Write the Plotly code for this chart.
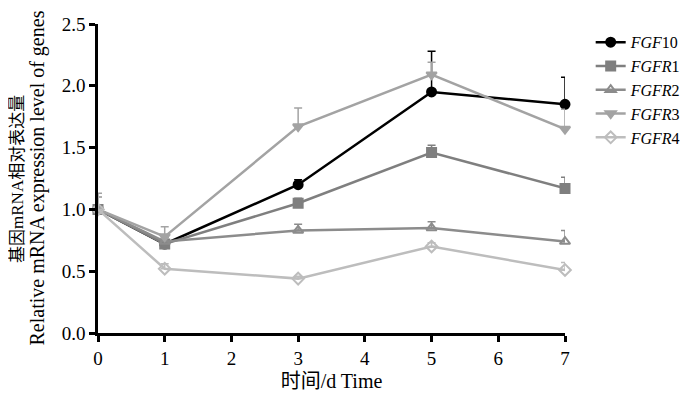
import plotly.graph_objects as go

days = [0, 1, 3, 5, 7]
series_names = ["<i>FGF</i>10", "<i>FGFR</i>1", "<i>FGFR</i>2", "<i>FGFR</i>3", "<i>FGFR</i>4"]
fgf10 = [1.00, 0.72, 1.20, 1.95, 1.85]
fgf10_err = [0.10, 0.03, 0.04, 0.33, 0.22]
fgfr1 = [1.00, 0.72, 1.05, 1.46, 1.17]
fgfr1_err = [0.10, 0.03, 0.04, 0.06, 0.09]
fgfr2 = [1.00, 0.74, 0.83, 0.85, 0.74]
fgfr2_err = [0.10, 0.03, 0.05, 0.05, 0.09]
fgfr3 = [1.00, 0.78, 1.67, 2.09, 1.65]
fgfr3_err = [0.13, 0.08, 0.15, 0.10, 0.16]
fgfr4 = [1.00, 0.52, 0.44, 0.70, 0.51]
fgfr4_err = [0.10, 0.04, 0.02, 0.03, 0.06]
y_title_cn = "基因mRNA相对表达量"
y_title_en = "Relative mRNA expression level of genes"
x_title = "时间/d Time"

values = [fgf10, fgfr1, fgfr2, fgfr3, fgfr4]
errors = [fgf10_err, fgfr1_err, fgfr2_err, fgfr3_err, fgfr4_err]
colors = ["#000000", "#7f7f7f", "#8c8c8c", "#a3a3a3", "#bdbdbd"]
symbols = ["circle", "square", "triangle-up-open", "triangle-down", "diamond-open"]

fig = go.Figure()
for name, v, e, c, s in zip(series_names, values, errors, colors, symbols):
    fig.add_trace(go.Scatter(
        x=days, y=v, name=name, mode="lines+markers",
        line=dict(color=c, width=2.5),
        marker=dict(symbol=s, size=9, color=c, line=dict(color=c, width=2)),
        error_y=dict(type="data", array=e, arrayminus=[0]*len(e), symmetric=False,
                     color=c, thickness=1.5, width=4),
        cliponaxis=False,
    ))

font = "Liberation Serif, Times New Roman, Noto Sans CJK SC, serif"
fig.update_layout(
    width=692, height=389,
    margin=dict(l=90, r=135, t=16, b=64),
    plot_bgcolor="white", paper_bgcolor="white",
    font=dict(family=font, size=19, color="black"),
    showlegend=True,
    legend=dict(x=1.055, y=0.996, xanchor="left", yanchor="top",
                font=dict(family=font, size=16, color="black"),
                tracegroupgap=0, itemwidth=30, bgcolor="rgba(0,0,0,0)"),
    xaxis=dict(range=[0, 7], tickvals=list(range(8)), showline=True, linecolor="black",
               linewidth=2.5, ticks="outside", ticklen=6, tickwidth=2.5, tickcolor="black",
               showgrid=False, zeroline=False, tickfont=dict(size=19), automargin=False,
               title=dict(text=x_title, font=dict(family=font, size=20), standoff=7)),
    yaxis=dict(range=[0, 2.5], tickvals=[0, 0.5, 1.0, 1.5, 2.0, 2.5],
               ticktext=["0.0", "0.5", "1.0", "1.5", "2.0", "2.5"],
               showline=True, linecolor="black", linewidth=2.5, ticks="outside",
               ticklen=6, tickwidth=2.5, tickcolor="black", showgrid=False, zeroline=False,
               tickfont=dict(size=19), automargin=False),
    annotations=[
        dict(text=y_title_cn, textangle=-90, xref="paper", yref="paper",
             x=-0.1725, y=0.5, xanchor="center", yanchor="middle", showarrow=False,
             font=dict(family=font, size=17, color="black")),
        dict(text=y_title_en, textangle=-90, xref="paper", yref="paper",
             x=-0.1306, y=0.5, xanchor="center", yanchor="middle", showarrow=False,
             font=dict(family=font, size=20, color="black")),
    ],
)
fig.write_html("out.html")
